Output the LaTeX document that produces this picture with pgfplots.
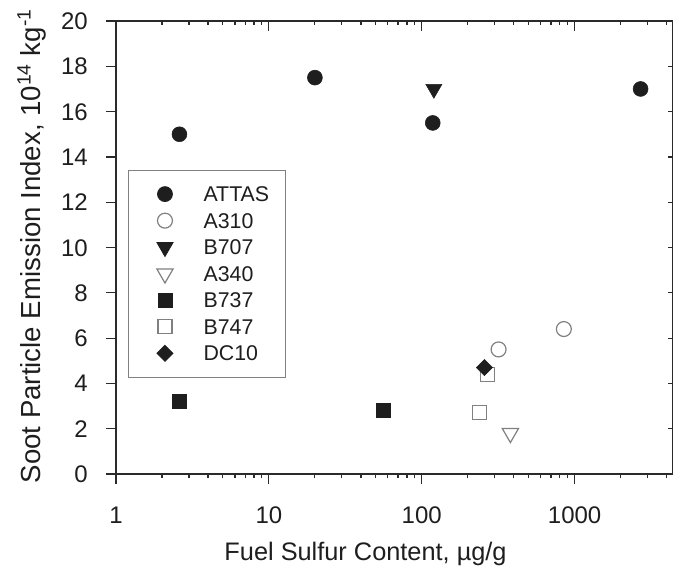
\documentclass[border=0pt]{standalone}
\usepackage{pgfplots}
\pgfplotsset{compat=1.18}
\usepackage{fontspec}
\setmainfont{Liberation Sans}
\definecolor{ink}{HTML}{1E1E1E}
\definecolor{opengray}{HTML}{808080}
\definecolor{axcol}{HTML}{2A2A2A}
\begin{document}
\begin{tikzpicture}
\useasboundingbox (-87pt,-78.75pt) rectangle (417.75pt,355.5pt);
\begin{axis}[
  scale only axis, width=417.75pt, height=339.75pt,
  xmode=log, xmin=1, xmax=4400, ymin=0, ymax=20,
  axis line style={axcol, line width=1.1pt},
  every tick/.style={axcol, line width=0.9pt},
  xtick={1,10,100,1000},
  minor xtick={2,3,4,5,6,7,8,9,20,30,40,50,60,70,80,90,200,300,400,500,600,700,800,900,2000,3000,4000},
  ytick={0,2,...,20},
  tick align=inside, major tick length=-7.5pt, minor tick length=-3pt,
  xtick pos=left, ytick pos=left,
  xticklabels={1,10,100,1000},
  yticklabels={0,2,4,6,8,10,12,14,16,18,20},
  xticklabel style={font=\fontsize{18}{20}\selectfont, text=ink, anchor=base, inner sep=0pt, yshift=-36.75pt},
  yticklabel style={font=\fontsize{18}{20}\selectfont, text=ink, anchor=base east, inner sep=0pt, xshift=-21pt, yshift=-6.44pt},
  xlabel={Fuel Sulfur Content, µg/g},
  ylabel={Soot Particle Emission Index, 10\textsuperscript{14} kg\textsuperscript{-1}},
  every axis x label/.style={at={(axis description cs:0.448,0)}, anchor=base, yshift=-64.5pt, font=\fontsize{19}{22}\selectfont, text=ink},
  every axis y label/.style={at={(axis description cs:-0.1511,0.503)}, rotate=90, anchor=center, font=\fontsize{20.7}{24}\selectfont, text=ink},
  legend style={at={(rel axis cs:0.0215,0.671)}, anchor=north west, draw=opengray, line width=0.6pt,
    font=\fontsize{16}{18}\selectfont, text=ink, inner xsep=12.5pt, inner ysep=10.5pt,
    row sep=4.9pt, column sep=14pt, nodes={inner sep=0pt, text height=13pt, text depth=2pt}},
  legend cell align=left,
  legend image code/.code={\path (0pt,0pt) (29pt,0pt); \draw[mark repeat=2,mark phase=2,#1] plot coordinates {(0pt,0.25pt)(14.5pt,0.25pt)(29pt,0.25pt)};},
]
\addplot[only marks, mark=*, mark size=5.6pt, draw=ink, fill=ink] coordinates {(2.6,15.0) (20,17.5) (118,15.5) (2700,17.0)};
\addlegendentry{ATTAS}
\addplot[only marks, mark=o, mark size=5.6pt, draw=opengray, line width=0.9pt] coordinates {(318,5.5) (850,6.4)};
\addlegendentry{A310}
\addplot[only marks, mark=triangle*, mark size=7pt, mark options={rotate=180}, draw=ink, fill=ink] coordinates {(120,17.0)};
\addlegendentry{B707}
\addplot[only marks, mark=triangle, mark size=7pt, mark options={rotate=180}, draw=opengray, line width=0.9pt] coordinates {(380,1.8)};
\addlegendentry{A340}
\addplot[only marks, mark=square*, mark size=5.25pt, draw=ink, fill=ink] coordinates {(2.6,3.2) (56,2.8)};
\addlegendentry{B737}
\addplot[only marks, mark=square, mark size=5.25pt, draw=opengray, line width=0.9pt] coordinates {(270,4.4) (240,2.7)};
\addlegendentry{B747}
\addplot[only marks, mark=square*, mark size=4.25pt, mark options={rotate=45}, draw=ink, fill=ink] coordinates {(257,4.7)};
\addlegendentry{DC10}
\end{axis}
\begin{axis}[
  scale only axis, width=417.75pt, height=339.75pt,
  xmode=log, xmin=1, xmax=4400, ymin=0, ymax=20,
  axis line style={axcol, line width=1.1pt},
  every tick/.style={axcol, line width=0.9pt},
  xtick={1,10,100,1000},
  minor xtick={2,3,4,5,6,7,8,9,20,30,40,50,60,70,80,90,200,300,400,500,600,700,800,900,2000,3000,4000},
  ytick=\empty,
  major tick length=7.5pt, minor tick length=3pt,
  tick align=inside, xtick pos=right,
  xticklabels={}]
\end{axis}
\begin{axis}[
  scale only axis, width=417.75pt, height=339.75pt,
  xmin=0, xmax=1, ymin=0, ymax=20,
  axis line style={axcol, line width=1.1pt},
  every tick/.style={axcol, line width=0.9pt},
  xtick=\empty, ytick={0,2,...,20},
  major tick length=3.75pt,
  tick align=inside, ytick pos=right,
  yticklabels={}]
\end{axis}
\end{tikzpicture}
\end{document}
